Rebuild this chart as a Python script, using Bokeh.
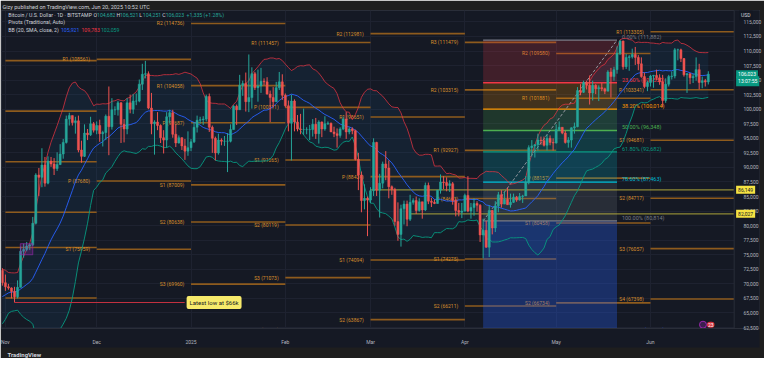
import numpy as np
import pandas as pd
from bokeh.plotting import figure
from bokeh.models import (ColumnDataSource, Range1d, FixedTicker, NumeralTickFormatter,
                          DatetimeTickFormatter, Label, Title)
from bokeh.core.properties import value
from bokeh.embed import file_html
from bokeh.resources import INLINE

# ---------------- data (thousands of USD) ----------------
# closes of Oct 12 - Oct 30 2024, only used to warm up the Bollinger Bands
warmup_close = [63.2, 62.9, 66.0, 67.0, 67.6, 67.4, 68.4, 68.4, 69.0, 67.4,
                67.4, 66.7, 68.2, 66.6, 67.0, 68.0, 69.9, 72.7, 72.3]
first_day = "2024-10-31"
high = [72.7,
        # Nov
        71.6, 70.0, 69.4, 69.5, 70.6, 76.4, 76.9, 77.2, 76.9, 81.5,
        89.0, 89.9, 93.3, 91.8, 91.9, 91.8, 91.6, 92.6, 94.0, 94.9,
        98.9, 99.4, 98.9, 98.7, 98.9, 94.6, 97.4, 96.6, 98.7, 97.8,
        # Dec
        97.9, 98.2, 96.3, 99.1, 103.9, 101.9, 100.5, 101.4, 101.2, 98.3,
        101.9, 102.5, 102.6, 102.7, 105.1, 107.8, 108.3, 106.5, 102.8, 98.1,
        99.5, 97.4, 96.4, 99.5, 99.9, 99.9, 97.4, 95.5, 95.2, 94.9, 96.2,
        # Jan
        94.9, 97.8, 98.9, 98.7, 98.8, 102.5, 102.7, 97.2, 95.3, 95.8,
        95.0, 95.4, 95.9, 97.4, 100.7, 100.8, 105.9, 104.9, 106.3, 109.4,
        107.2, 106.4, 106.8, 107.1, 105.3, 105.5, 103.2, 103.8, 104.7, 106.4, 106.0,
        # Feb
        102.7, 101.5, 102.5, 101.7, 99.0, 99.2, 100.1, 96.9, 97.3, 98.3,
        98.5, 98.1, 97.9, 98.8, 97.9, 97.7, 97.0, 96.7, 96.9, 98.7,
        99.5, 96.9, 96.9, 96.5, 92.5, 89.3, 87.1, 85.0,
        # Mar
        86.6, 95.0, 94.4, 88.9, 91.0, 92.8, 91.2, 86.9, 86.5, 84.0,
        83.6, 84.3, 84.3, 85.3, 84.7, 85.0, 84.7, 84.1, 87.4, 87.4,
        84.8, 84.5, 86.1, 88.8, 88.5, 88.3, 87.8, 87.5, 84.6, 83.9, 83.9,
        # Apr
        85.5, 88.5, 83.9, 84.7, 84.2, 83.7, 81.2, 80.8, 83.5, 82.7,
        84.2, 85.8, 86.1, 85.8, 86.5, 85.5, 85.5, 85.1, 85.6, 85.3,
        88.5, 93.8, 94.7, 94.0, 95.8, 95.3, 95.3, 95.6, 95.5, 95.0,
        # May
        97.4, 97.9, 96.9, 96.3, 95.2, 96.9, 97.7, 103.8, 104.3, 104.9,
        104.9, 105.8, 104.9, 104.3, 104.1, 104.5, 103.7, 106.7, 107.1, 107.3,
        110.8, 111.9, 111.8, 109.5, 109.3, 110.4, 110.7, 109.3, 108.9, 106.3, 104.9,
        # Jun
        105.9, 105.9, 106.8, 106.0, 105.9, 105.3, 105.9, 106.5, 110.5, 110.4,
        110.4, 108.8, 106.2, 106.2, 106.1, 108.9, 107.8, 105.6, 105.2, 106.521]
low = [69.7,
       68.8, 69.0, 67.5, 66.8, 67.5, 69.4, 74.5, 75.6, 75.8, 76.5,
       80.2, 85.1, 86.6, 86.7, 87.1, 90.1, 88.7, 89.4, 90.4, 91.5,
       94.1, 97.2, 97.2, 95.8, 92.6, 90.8, 91.8, 94.7, 95.4, 96.0,
       95.7, 94.4, 93.6, 94.7, 92.1, 96.5, 99.0, 98.9, 94.2, 94.3,
       95.7, 99.3, 99.2, 100.7, 101.2, 103.3, 105.3, 100.0, 95.7, 92.2,
       96.4, 94.2, 92.4, 93.4, 97.6, 95.1, 93.5, 94.1, 93.0, 91.3, 92.0,
       92.8, 94.2, 96.0, 97.5, 97.3, 97.9, 96.1, 92.5, 91.2, 92.2,
       93.8, 93.7, 89.2, 94.3, 96.5, 97.3, 99.9, 102.3, 99.6, 99.5,
       100.1, 103.3, 101.3, 102.8, 104.1, 102.5, 97.8, 100.3, 101.3, 103.3, 101.6,
       100.3, 96.2, 91.2, 96.2, 96.2, 95.7, 95.6, 95.7, 94.7, 95.3,
       94.9, 94.1, 95.2, 96.3, 97.3, 96.1, 95.2, 93.4, 95.1, 96.4,
       94.9, 95.7, 95.7, 91.2, 86.1, 82.3, 82.8, 78.2,
       83.9, 85.1, 85.1, 81.4, 86.4, 87.8, 84.7, 85.3, 80.0, 77.4,
       76.4, 80.2, 79.9, 80.8, 83.6, 82.0, 82.4, 81.2, 82.5, 83.7,
       83.2, 83.7, 83.8, 85.5, 86.3, 85.9, 85.8, 83.6, 81.6, 81.6, 81.3,
       82.4, 82.3, 81.2, 81.7, 82.4, 77.2, 74.4, 76.2, 74.6, 78.5,
       78.9, 82.3, 83.1, 83.7, 83.6, 83.1, 83.9, 84.1, 84.3, 83.9,
       85.1, 87.1, 91.9, 91.7, 92.9, 93.9, 93.6, 92.9, 93.8, 92.9,
       94.1, 96.3, 95.7, 94.1, 93.4, 93.4, 95.8, 96.9, 102.4, 102.8,
       103.4, 100.8, 101.5, 102.6, 101.4, 103.1, 102.6, 103.1, 102.0, 104.9,
       106.1, 109.3, 106.8, 106.9, 106.6, 108.7, 107.6, 106.7, 105.4, 103.6, 103.1,
       103.9, 103.7, 105.0, 104.2, 100.4, 101.1, 103.9, 105.1, 105.3, 108.4,
       108.1, 105.6, 102.8, 104.3, 104.5, 104.9, 103.4, 103.6, 103.9, 104.251]
close = [70.2,
         69.5, 69.3, 68.7, 67.8, 69.4, 75.6, 75.9, 76.5, 76.7, 80.4,
         88.7, 88.3, 90.4, 87.3, 91.1, 90.6, 89.8, 90.5, 92.3, 94.3,
         98.3, 98.9, 97.7, 98.0, 93.0, 91.9, 95.9, 95.6, 97.5, 96.4,
         97.2, 95.8, 96.0, 98.8, 97.0, 99.9, 99.9, 101.1, 97.4, 96.6,
         101.1, 100.0, 101.4, 101.4, 104.3, 106.0, 106.1, 100.2, 97.5, 97.8,
         97.2, 95.1, 94.7, 98.7, 99.4, 95.7, 94.2, 95.1, 93.7, 92.8, 93.4,
         94.4, 96.9, 98.1, 98.2, 98.3, 102.2, 96.9, 95.0, 92.5, 94.7,
         94.5, 94.5, 94.5, 96.5, 100.5, 99.9, 104.1, 104.4, 101.3, 102.0,
         106.1, 103.7, 104.0, 104.8, 104.7, 102.6, 102.0, 101.3, 103.7, 104.7, 102.4,
         100.6, 97.6, 101.4, 97.8, 96.6, 96.5, 96.5, 96.5, 96.5, 97.4,
         95.8, 97.8, 96.6, 97.5, 97.6, 96.1, 95.8, 95.5, 96.6, 98.3,
         96.1, 96.6, 96.3, 91.4, 88.7, 84.3, 84.7, 84.4,
         86.0, 94.3, 86.1, 87.3, 90.6, 89.9, 86.7, 86.2, 80.7, 78.5,
         82.9, 83.7, 81.1, 84.0, 84.3, 82.6, 84.1, 82.7, 86.9, 84.2,
         84.0, 83.8, 86.1, 87.5, 87.4, 86.9, 87.2, 84.3, 82.6, 82.3, 82.5,
         85.2, 82.5, 83.1, 83.8, 83.5, 78.4, 79.2, 76.3, 82.6, 79.6,
         83.4, 85.3, 83.7, 84.5, 83.6, 84.0, 84.9, 84.4, 85.0, 85.1,
         87.5, 93.4, 93.7, 93.9, 94.7, 94.6, 93.8, 95.0, 94.3, 94.2,
         96.5, 96.9, 95.9, 94.3, 94.7, 96.8, 97.0, 103.2, 102.9, 104.6,
         104.1, 102.8, 104.1, 103.5, 103.7, 103.5, 103.1, 106.4, 105.6, 106.8,
         109.6, 111.7, 107.3, 108.9, 109.0, 109.4, 108.9, 107.8, 105.6, 103.9, 104.6,
         105.7, 105.8, 105.4, 104.7, 101.5, 104.3, 105.6, 105.7, 110.2, 110.2,
         108.7, 105.9, 106.1, 105.4, 105.6, 106.8, 104.6, 104.9, 104.688, 106.023]

price_ticks = [62500, 65000, 67500, 70000, 72500, 75000, 77500, 80000, 82500, 85000,
               87500, 90000, 92500, 95000, 97500, 100000, 102500, 105000, 107500,
               110000, 112500, 115000]
month_ticks = ["2024-11-01", "2024-12-01", "2025-01-01", "2025-02-01", "2025-03-01",
               "2025-04-01", "2025-05-01", "2025-06-01"]
month_labels = ["Nov", "Dec", "2025", "Feb", "Mar", "Apr", "May", "Jun"]

# monthly Traditional pivots, one list per month of month_ticks
pivot_levels = [
    [("R5", 108347), ("R4", 99665), ("R3", 90983), ("R2", 82302), ("R1", 76258), ("P", 67577)],
    [("R1", 108561), ("P", 87680), ("S1", 75959)],
    [("R2", 114736), ("R1", 104058), ("P", 97687), ("S1", 87009), ("S2", 80638), ("S3", 69960)],
    [("R1", 111457), ("P", 100311), ("S1", 91265), ("S2", 80119), ("S3", 71073), ("S4", 62027)],
    [("R2", 112981), ("R1", 98651), ("P", 88424), ("S1", 74094), ("S2", 63867)],
    [("R3", 111479), ("R2", 103315), ("R1", 92927), ("P", 84663), ("S1", 74275), ("S2", 66211)],
    [("R2", 109580), ("R1", 101881), ("P", 88157), ("S1", 80458), ("S2", 66734)],
    [("R1", 113305), ("P", 103341), ("S1", 94681), ("S2", 84717), ("S3", 76057), ("S4", 67398)],
]

fib_start, fib_end = "2025-04-07", "2025-05-21"
fib_ratios = [0.0, 0.236, 0.382, 0.5, 0.618, 0.786, 1.0, 1.618]
fib_prices = [111882, 104550, 100014, 96348, 92682, 87463, 80814, 61614]

hray_prices = [86149, 82027]
hray_starts = ["2025-03-01", "2025-03-14"]

bb_last = [105921, 109783, 102059]  # basis, upper, lower shown in legend
last_bar = dict(o=104682, h=106521, l=104251, c=106023, chg=1335, pct=1.28)

# ---------------- styling ----------------
BG = "#151924"
BAR = "#1e1e1e"
TXT = "#d1d4dc"
AXT = "#b2b5be"
SEP = "#2a2e39"
UP, DN = "#26a69a", "#ef5350"
FONT = "Roboto"
PIV_LINE, PIV_TXT = "#8e5b1d", "#d98f2c"
fib_colors = ["#787b86", "#f23645", "#ff9800", "#4caf50", "#089981", "#00bcd4", "#787b86", "#2962ff"]

DAY = 86400000.0


def ms(d):
    return pd.Timestamp(d).value / 1e6


nov1 = ms("2024-11-01")
XS, XE = nov1 - 1.28 * DAY, nov1 + 239.5 * DAY   # chart pane (reference px 0..752)
Y0, Y1 = 62334, 116957


def rx(px):  # reference-pixel x -> data x (for annotation placement)
    return XS + px / 752.0 * (XE - XS)


def ry(py):
    return Y1 - (py - 12) / 335.0 * (Y1 - Y0)


XF = rx(778)  # frame also spans the price-scale column

n = len(close)
t = np.array([ms(first_day) + i * DAY for i in range(n)])
c = np.array(close) * 1000
h = np.array(high) * 1000
l = np.array(low) * 1000
o = np.array([warmup_close[-1]] + close[:-1]) * 1000
col = np.where(c >= o, UP, DN)

allc = pd.Series(warmup_close + close) * 1000
mid = allc.rolling(20).mean().to_numpy()[-n:]
sd = allc.rolling(20).std(ddof=0).to_numpy()[-n:]
upper, lower = mid + 2 * sd, mid - 2 * sd

p = figure(width=764, height=358, x_axis_type="datetime", y_axis_location="right",
           x_range=Range1d(XS, XF), y_range=Range1d(Y0, Y1),
           output_backend="svg", toolbar_location=None,
           background_fill_color=BG, border_fill_color=BAR,
           min_border_left=1, min_border_right=1, min_border_top=0, min_border_bottom=0,
           outline_line_color=SEP,
           title="Gizy published on TradingView.com, Jun 20, 2025 10:52 UTC")
p.title.text_font = FONT
p.title.text_font_size = "5.5px"
p.title.text_font_style = "normal"
p.title.text_color = TXT
p.title.align = "left"
p.title.offset = 1
p.title.standoff = 2

foot = Title(text="TradingView", align="left", text_font=FONT, text_font_size="6px",
             text_font_style="bold", text_color=TXT, offset=6, standoff=2)
p.add_layout(foot, "below")

# axes
yax = p.yaxis[0]
yax.ticker = FixedTicker(ticks=price_ticks)
yax.formatter = NumeralTickFormatter(format="0,0")
xax = p.xaxis[0]
month_ms = [ms(m) for m in month_ticks]
xax.ticker = FixedTicker(ticks=month_ms)
xax.formatter = DatetimeTickFormatter(months="%b", days="%b", years="%Y")
xax.major_label_overrides = {m: lab for m, lab in zip(month_ms, month_labels)}
for ax in (xax, yax):
    ax.major_label_text_font = FONT
    ax.major_label_text_font_size = "5px"
    ax.major_label_text_color = AXT
    ax.major_tick_line_color = None
    ax.minor_tick_line_color = None
    ax.axis_line_color = None
xax.major_label_standoff = 4
xax.axis_line_color = SEP
yax.major_label_standoff = -22   # labels drawn inside the price-scale column
try:
    xax.background_fill_color = BG
except Exception:
    pass
p.ygrid.ticker = FixedTicker(ticks=price_ticks)
p.xgrid.ticker = FixedTicker(ticks=month_ms)
p.grid.grid_line_color = "#1e2230"

# Bollinger band fill
p.varea(x=t, y1=lower, y2=upper, fill_color="#2196f3", fill_alpha=0.07)

# pivot lines and labels
sx0, sx1, sy, lx, ly, lt = [], [], [], [], [], []
for i, m in enumerate(month_ticks):
    start = ms(m)
    end = ms(month_ticks[i + 1]) if i + 1 < len(month_ticks) else XE
    for name, v in pivot_levels[i]:
        sx0.append(start); sx1.append(end); sy.append(v)
        if i > 0:
            lx.append(start - 2.2 * DAY); ly.append(v); lt.append(f"{name} ({v})")
p.segment(x0=sx0, y0=sy, x1=sx1, y1=sy, line_color=PIV_LINE, line_width=1.6)
p.text(x=lx, y=ly, text=lt, text_font=value(FONT), text_font_size=value("5px"),
       text_color=PIV_TXT, text_align="right", text_baseline="middle")

# Fibonacci retracement
fx0, fx1 = ms(fib_start), ms(fib_end)
for i in range(len(fib_prices) - 1):
    p.quad(left=fx0, right=fx1, top=fib_prices[i], bottom=fib_prices[i + 1],
           fill_color=fib_colors[i + 1], fill_alpha=0.3 if i == 6 else 0.2, line_color=None)
p.segment(x0=[fx0] * len(fib_prices), x1=[fx1] * len(fib_prices), y0=fib_prices, y1=fib_prices,
          line_color=fib_colors, line_width=1.3)
p.line([fx0, fx1], [fib_prices[6], fib_prices[0]], line_color="#9598a1", line_dash="3 2", line_width=1)
fib_text = [f"{r * 100:.2f}% ({v:,})" for r, v in zip(fib_ratios, fib_prices)]
p.text(x=[fx1 + 1.6 * DAY] * len(fib_prices), y=fib_prices, text=fib_text,
       text_font=value(FONT), text_font_size=value("5.5px"), text_color=fib_colors,
       text_align="left", text_baseline="bottom")

# horizontal rays
p.segment(x0=[ms(s) for s in hray_starts], x1=[XE] * 2, y0=hray_prices, y1=hray_prices,
          line_color="#b5ad3c", line_alpha=0.75, line_width=1.2)

# Bollinger lines
p.line(t, upper, line_color="#f23645", line_alpha=0.7, line_width=1)
p.line(t, mid, line_color="#2962ff", line_alpha=0.9, line_width=1)
p.line(t, lower, line_color="#089981", line_alpha=0.9, line_width=1)

# candles
src = ColumnDataSource(dict(t=t, o=o, h=h, l=l, c=c, col=col))
p.segment(x0="t", y0="h", x1="t", y1="l", line_color="col", line_width=1, source=src)
p.vbar(x="t", width=0.68 * DAY, top="o", bottom="c", fill_color="col", line_color="col",
       line_width=0.5, source=src)

# drawings: purple box and latest-low marker
p.quad(left=ms("2024-11-05") + 0.9 * DAY, right=ms("2024-11-10"), bottom=75000, top=76900,
       fill_color="#9c27b0", fill_alpha=0.25, line_color="#9c27b0", line_alpha=0.6, line_width=1)
low_i = int(np.argmin(l[:10]))
p.segment(x0=[t[low_i]], x1=[rx(188)], y0=[l[low_i]], y1=[l[low_i]], line_color="#c2303f", line_width=1)
p.add_layout(Label(x=rx(190), y=l[low_i], text="Latest low at $66k", text_font=FONT,
                   text_font_size="6px", text_color="#131722", text_baseline="middle",
                   background_fill_color="#f7ea6b", padding=3, border_radius=2))

# small alert icons near the bottom-right
p.scatter(x=[rx(720)], y=[ry(343)], size=7, marker="circle", fill_color="#3b1f4f",
          line_color="#9c27b0", line_width=1)
p.add_layout(Label(x=rx(724), y=ry(343), text="23", text_font=FONT, text_font_size="5px",
                   text_color="#ffffff", text_baseline="middle", background_fill_color="#d32f3c",
                   padding=1, border_radius=3))

# price-scale column: plain background and separator line
p.quad(left=XE, right=XF + DAY, bottom=Y0 - 5000, top=Y1 + 5000, fill_color=BG, line_color=None)
p.segment(x0=[XE], x1=[XE], y0=[Y0 - 5000], y1=[Y1 + 5000], line_color=SEP, line_width=1)


# legend texts at top-left
def lab(px, py, text, color=TXT, size="5.2px"):
    p.add_layout(Label(x=rx(px), y=ry(py), text=text, text_font=FONT, text_font_size=size,
                       text_color=color, text_baseline="middle"))


lab(7, 16.5, "Bitcoin / U.S. Dollar · 1D · BITSTAMP")
pos = [(94.5, "O", "o"), (118, "H", "h"), (141.5, "L", "l"), (165, "C", "c")]
for px, letter, k in pos:
    lab(px, 16.5, letter)
    lab(px + 3.5, 16.5, f"{last_bar[k]:,}", UP)
lab(190, 16.5, f"+{last_bar['chg']:,} (+{last_bar['pct']:.2f}%)", UP)
lab(7, 24.5, "Pivots (Traditional, Auto)")
lab(7, 32.3, "BB (20, SMA, close, 2)")
for px, v, cc in zip([61, 82, 102], bb_last, ["#2962ff", "#f23645", "#089981"]):
    lab(px, 32.3, f"{v:,}", cc)


# price-scale tags
def tag(y_val, text, bg, fg, dy=0, px=754):
    p.add_layout(Label(x=rx(px), y=y_val, y_offset=dy, text=text, text_font=FONT,
                       text_font_size="5px", text_color=fg, text_baseline="middle",
                       background_fill_color=bg, padding=2))


tag(ry(17), "USD", "#131722", TXT, px=757)
tag(last_bar["c"], f"{last_bar['c']:,}", "#089981", "#ffffff")
tag(last_bar["c"], "13:07:55", "#089981", "#ffffff", dy=-7)
for v in hray_prices:
    tag(v, f"{v:,}", "#f5e342", "#131722")

open("out.html", "w").write(file_html(p, INLINE))
